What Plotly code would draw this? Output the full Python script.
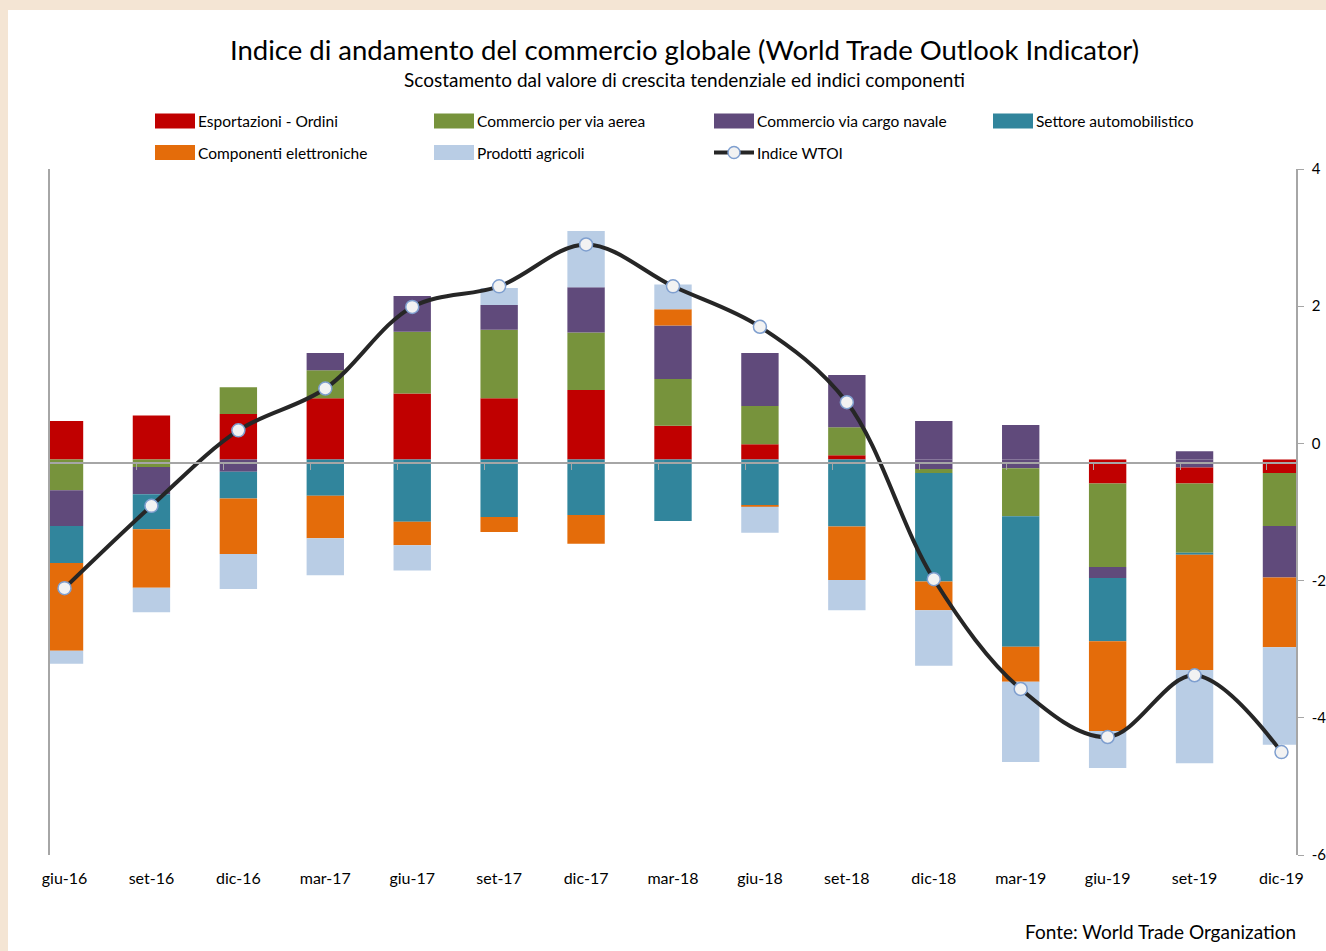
import plotly.graph_objects as go

# ---------------- data ----------------
categorie = ["giu-16", "set-16", "dic-16", "mar-17", "giu-17", "set-17", "dic-17", "mar-18",
             "giu-18", "set-18", "dic-18", "mar-19", "giu-19", "set-19", "dic-19"]

esportazioni_ordini = [0.56, 0.64, 0.66, 0.89, 0.96, 0.89, 1.01, 0.49, 0.22, 0.06, 0.0, 0.0, -0.35, -0.23, -0.20]
commercio_aereo = [-0.45, -0.11, 0.39, 0.41, 0.90, 1.00, 0.84, 0.68, 0.56, 0.41, -0.06, -0.70, -1.22, -1.01, -0.77]
cargo_navale = [-0.52, -0.40, -0.18, 0.25, 0.52, 0.36, 0.66, 0.78, 0.77, 0.76, 0.56, 0.50, -0.16, 0.12, -0.75]
# part of the purple segment that is drawn just under the baseline in the reference
cargo_navale_sotto = [None, None, None, None, None, None, None, None, None, None, -0.14, -0.13, None, -0.12, None]
settore_auto = [-0.54, -0.51, -0.39, -0.53, -0.91, -0.84, -0.81, -0.90, -0.67, -0.98, -1.58, -1.90, -0.92, -0.03, 0.0]
componenti_elettroniche = [-1.28, -0.85, -0.81, -0.62, -0.34, -0.22, -0.42, 0.24, -0.02, -0.78, -0.42, -0.51, -1.31, -1.68, -1.02]
prodotti_agricoli = [-0.19, -0.36, -0.51, -0.54, -0.37, 0.25, 0.82, 0.36, -0.38, -0.44, -0.81, -1.17, -0.54, -1.36, -1.42]
indice_wtoi = [-2.11, -0.91, 0.19, 0.80, 1.99, 2.29, 2.90, 2.29, 1.70, 0.60, -1.98, -3.58, -4.28, -3.38, -4.50]

tick_valori_dx = [4, 2, 0, -2, -4, -6]
tick_testi_dx = ["4", "2", "0", "-2", "-4", "-6"]

nomi = ["Esportazioni - Ordini", "Commercio per via aerea", "Commercio via cargo navale",
        "Settore automobilistico", "Componenti elettroniche", "Prodotti agricoli", "Indice WTOI"]

# ---------------- styling ----------------
C_RED, C_GREEN, C_PURPLE, C_TEAL, C_ORANGE, C_LBLUE = "#c00000", "#77933c", "#604a7b", "#31859c", "#e46c0a", "#b9cde5"
AX = "#a6a6a6"
FONT = "Lato"

W, H = 1326, 951
ML, MR, MT, MB = 50, 30, 169, 96
PW, PH = W - ML - MR, H - MT - MB


def px(x):
    return (x - ML) / PW


def py(y):
    return (H - MB - y) / PH


fig = go.Figure()

barre = [
    (nomi[2], cargo_navale_sotto, C_PURPLE),
    (nomi[0], esportazioni_ordini, C_RED),
    (nomi[1], commercio_aereo, C_GREEN),
    (nomi[2], cargo_navale, C_PURPLE),
    (nomi[3], settore_auto, C_TEAL),
    (nomi[4], componenti_elettroniche, C_ORANGE),
    (nomi[5], prodotti_agricoli, C_LBLUE),
]
for nome, valori, colore in barre:
    fig.add_trace(go.Bar(x=categorie, y=valori, name=nome, width=0.43,
                         marker=dict(color=colore, line=dict(width=0)),
                         showlegend=False, xaxis="x", yaxis="y"))

fig.add_trace(go.Scatter(x=categorie, y=indice_wtoi, name=nomi[6], mode="lines+markers",
                         line=dict(color="#262626", width=4, shape="spline", smoothing=1),
                         marker=dict(size=13, color="#f2f2f2", line=dict(color="#7f9fcf", width=1.5)),
                         showlegend=False, xaxis="x", yaxis="y2"))

# dummy trace so the secondary category axis (baseline with ticks) is drawn
fig.add_trace(go.Scatter(x=[None], y=[None], xaxis="x2", yaxis="y", showlegend=False, hoverinfo="skip"))

xr = [-0.167, 14.167]
fig.update_layout(
    width=W, height=H, autosize=False,
    margin=dict(l=ML, r=MR, t=MT, b=MB, pad=0, autoexpand=False),
    paper_bgcolor="#f4e5d4",
    plot_bgcolor="rgba(0,0,0,0)",
    barmode="relative",
    font=dict(family=FONT, color="#000000"),
    xaxis=dict(type="category", range=xr, showline=False, ticks="", showgrid=False, zeroline=False,
               automargin=False,
               tickfont=dict(size=16, family=FONT, color="#000000"), ticklabelstandoff=12),
    xaxis2=dict(type="linear", overlaying="x", anchor="free", position=py(463.3), range=xr,
                tickvals=[k - 0.167 for k in range(1, 15)], showticklabels=False, automargin=False,
                ticks="outside", ticklen=6, tickcolor=AX, tickwidth=1,
                showline=True, linecolor=AX, linewidth=1.5, showgrid=False, zeroline=False),
    yaxis=dict(range=[-5.767, 4.233], showline=True, linecolor=AX, linewidth=1.5, automargin=False,
               showticklabels=False, ticks="", showgrid=False, zeroline=False),
    yaxis2=dict(overlaying="y", side="right", range=[-6, 4], tickvals=tick_valori_dx, ticktext=tick_testi_dx,
                ticks="outside", ticklen=6, tickcolor=AX, tickwidth=1, showline=True, linecolor=AX, linewidth=1.5,
                showgrid=False, zeroline=False, automargin=False,
                tickfont=dict(size=15, family=FONT, color="#000000"), ticklabelstandoff=5),
    showlegend=False,
)

shapes = [dict(type="rect", xref="paper", yref="paper", x0=px(8), x1=px(W + 5), y0=py(10), y1=py(H + 5),
               fillcolor="#ffffff", line=dict(width=0), layer="below")]
annotations = [
    dict(text="Indice di andamento del commercio globale (World Trade Outlook Indicator)",
         x=px(684), y=py(49), xref="paper", yref="paper", showarrow=False, xanchor="center", yanchor="middle",
         font=dict(size=27.5, family=FONT, color="#000000")),
    dict(text="Scostamento dal valore di crescita tendenziale ed indici componenti",
         x=px(684), y=py(79), xref="paper", yref="paper", showarrow=False, xanchor="center", yanchor="middle",
         font=dict(size=19, family=FONT, color="#000000")),
    dict(text="Fonte: World Trade Organization",
         x=px(1298), y=py(931), xref="paper", yref="paper", showarrow=False, xanchor="right", yanchor="middle",
         font=dict(size=19, family=FONT, color="#000000")),
]

# manual legend (large swatches as in the reference)
legenda = [
    (nomi[0], C_RED, 155, 121), (nomi[1], C_GREEN, 434, 121), (nomi[2], C_PURPLE, 714, 121), (nomi[3], C_TEAL, 993, 121),
    (nomi[4], C_ORANGE, 155, 152.5), (nomi[5], C_LBLUE, 434, 152.5),
]
for nome, col, x0, yc in legenda:
    shapes.append(dict(type="rect", xref="paper", yref="paper", x0=px(x0), x1=px(x0 + 40),
                       y0=py(yc + 7.5), y1=py(yc - 7.5), fillcolor=col, line=dict(width=0)))
    annotations.append(dict(text=nome, x=px(x0 + 41), y=py(yc), xref="paper", yref="paper", showarrow=False,
                            xanchor="left", yanchor="middle", font=dict(size=15.5, family=FONT, color="#000000")))
# line entry
shapes.append(dict(type="line", xref="paper", yref="paper", x0=px(714), x1=px(754), y0=py(152.5), y1=py(152.5),
                   line=dict(color="#262626", width=4)))
shapes.append(dict(type="circle", xref="paper", yref="paper", x0=px(728), x1=px(740), y0=py(158.5), y1=py(146.5),
                   fillcolor="#f2f2f2", line=dict(color="#7f9fcf", width=1.5)))
annotations.append(dict(text=nomi[6], x=px(755), y=py(152.5), xref="paper", yref="paper", showarrow=False,
                        xanchor="left", yanchor="middle", font=dict(size=15.5, family=FONT, color="#000000")))

fig.update_layout(shapes=shapes, annotations=annotations)
fig.write_html("out.html")
